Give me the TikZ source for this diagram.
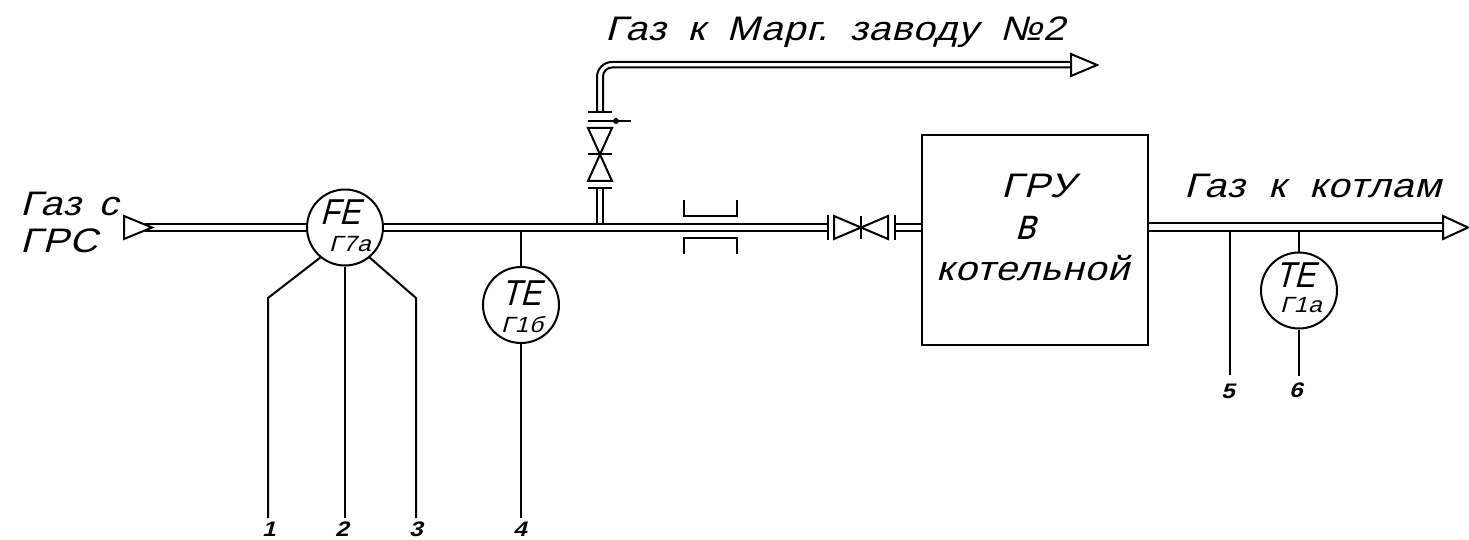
\documentclass[tikz,border=0pt]{standalone}
\usepackage{fontspec}
\setmainfont{Liberation Sans}
\newfontfamily\cadfont{Liberation Sans}[FakeSlant=0.27,FakeStretch=1.15,LetterSpace=3]
\newfontfamily\tagfont{Liberation Sans}[FakeSlant=0.27,FakeStretch=0.86]
\newfontfamily\subfont{Liberation Sans}[FakeSlant=0.27,FakeStretch=1.1,LetterSpace=3]
\newfontfamily\numfont{Liberation Sans Bold}[FakeSlant=0.27,FakeStretch=1.15]
\tikzset{
  ln/.style={draw=black,line width=2pt,line join=miter},
  inst/.style={circle,draw=black,line width=2pt,minimum size=76pt,inner sep=0pt,fill=white},
  big/.style={font=\cadfont\fontsize{34}{34}\selectfont,inner sep=0pt,anchor=base west},
  tag/.style={font=\tagfont\fontsize{36}{36}\selectfont,inner sep=0pt,anchor=base west},
  tall/.style={font=\tagfont\fontsize{44}{44}\selectfont,inner sep=0pt,anchor=base west},
  sub/.style={font=\subfont\fontsize{22}{22}\selectfont,inner sep=0pt,anchor=base west},
  num/.style={font=\numfont\fontsize{21}{21}\selectfont,inner sep=0pt,anchor=base west}
}
\begin{document}
\begin{tikzpicture}[x=1pt,y=-1pt]
\useasboundingbox (0,0) rectangle (1469,540);
% box
\node[draw=black,line width=2pt,minimum width=226pt,minimum height=210pt,inner sep=0pt,anchor=north west] (gru) at (921,134) {};
% instruments
\node[inst] (fe) at (345,227.5) {};
\node[inst] (te1) at (521,305) {};
\node[inst] (te2) at (1299,290.5) {};
% free coordinates
\coordinate (p1) at (268,298); \coordinate (e1) at (268,518);
\coordinate (e2) at (345,518);
\coordinate (p3) at (416,298); \coordinate (e3) at (416,518);
\coordinate (a4) at (521,231); \coordinate (e4) at (521,518);
\coordinate (a5) at (1230,231); \coordinate (e5) at (1230,375);
\coordinate (a6) at (1299,231); \coordinate (e6) at (1299,376);
% main pipe
\draw[ln] (145,224) -- (fe.west |- 0,224);
\draw[ln] (145,231) -- (fe.west |- 0,231);
\draw[ln] (382.5,224) -- (828,224);
\draw[ln] (382.5,231) -- (828,231);
\draw[line width=2.8pt] (640,231) -- (646,231);
\draw[ln] (895,224) -- (921,224) (895,231) -- (921,231);
\draw[ln] (1147,223) -- (1443,223) (1147,231) -- (1443,231);
% arrows
\draw[ln] (124,216) -- (152,227.5) -- (124,239) -- cycle;
\draw[ln] (1443,216) -- (1468,227.5) -- (1443,239) -- cycle;
% casing
\draw[ln] (684,200) -- (684,216) -- (737,216) -- (737,200);
\draw[ln] (684,254) -- (684,238) -- (737,238) -- (737,254);
% horizontal valve
\draw[ln] (828,215) -- (828,240);
\draw[ln] (895,215) -- (895,240);
\draw[ln] (834,216) -- (834,239) -- (888,216) -- (888,239) -- cycle;
\draw[ln] (861,216) -- (861,239);
% branch
\draw[ln] (597,224) -- (597,188) (603,224) -- (603,188);
\draw[ln] (588,188) -- (612,188);
\draw[ln] (588,128) -- (612,128) -- (588,181) -- (612,181) -- cycle;
\draw[ln] (588,154) -- (612,154);
\draw[ln] (588,121) -- (631,121);
\fill (616,121) circle (3pt);
\draw[ln] (588,112) -- (612,112);
\draw[ln,rounded corners=15pt] (597,112) -- (597,62) -- (1071,62);
\draw[ln,rounded corners=9pt] (603,112) -- (603,67.5) -- (1071,67.5);
\draw[ln] (1071,54) -- (1097,65) -- (1071,76) -- cycle;
% signal lines
\draw[ln] (321,257) -- (p1) -- (e1);
\draw[ln] (fe.south) -- (e2);
\draw[ln] (369,257) -- (p3) -- (e3);
\draw[ln] (a4) -- (te1.north);
\draw[ln] (te1.south) -- (e4);
\draw[ln] (a5) -- (e5);
\draw[ln] (a6) -- (te2.north);
\draw[ln] (te2.south) -- (e6);
% labels
\node[big] (t1) at (605,41) {Газ\hspace{22pt}к\hspace{22pt}Марг.\hspace{22pt}заводу\hspace{22pt}№2};
\node[big] (t2) at (20,215) {Газ\hspace{18pt}с};
\node[big] (t3) at (20,252) {ГРС};
\node[big] (t4) at (1184,198) {Газ\ \ к\ \ котлам};
\node[big] (t5) at (1001,198) {ГРУ};
\node[tall] (t6) at (1015,239) {в};
\node[big] (t7) at (936,280) {котельной};
\node[tag] at (320,224) (fe1) {FE};
\node[sub] at (329,251) (fe2) {Г7а};
\node[tag] at (501,305) (te11) {TE};
\node[sub] at (501,332) (te12) {Г1б};
\node[tag] at (1275,287) (te21) {TE};
\node[sub] at (1280,312) (te22) {Г1а};
\node[num] at (262,536.5) (n1) {1};
\node[num] at (335,536.5) (n2) {2};
\node[num] at (409,536.5) (n3) {3};
\node[num] at (513,536.5) (n4) {4};
\node[num] at (1221,398) (n5) {5};
\node[num] at (1289,397) (n6) {6};
\end{tikzpicture}
\end{document}
